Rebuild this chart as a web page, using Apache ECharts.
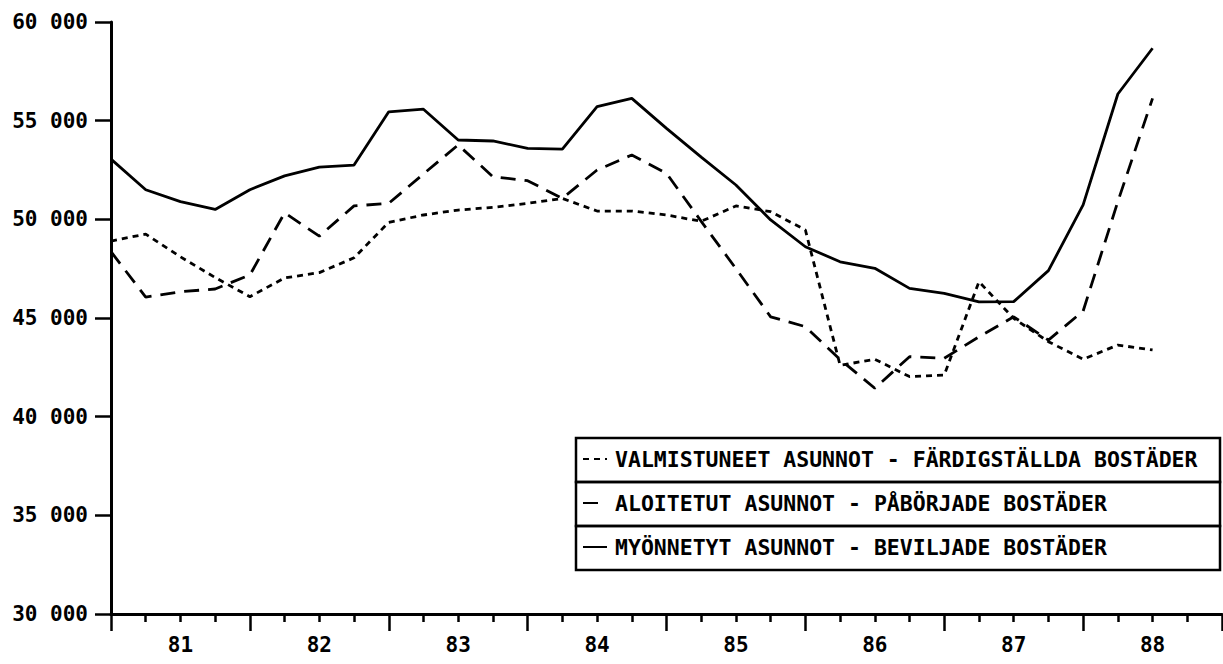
<!DOCTYPE html>
<html>
<head>
<meta charset="utf-8">
<script src="https://cdn.jsdelivr.net/npm/echarts@6/dist/echarts.min.js"></script>
<style>
html,body{margin:0;padding:0;background:#fff;}
#chart{width:1223px;height:664px;}
</style>
</head>
<body>
<div id="chart"></div>
<script>
// Year labels on the x axis (each year = 4 quarters)
const years = ['81', '82', '83', '84', '85', '86', '87', '88'];
// Y tick values
const yTicks = [30000, 35000, 40000, 45000, 50000, 55000, 60000];

// Quarterly values, 1981 Q1 .. 1988 Q3
const valmistuneet = [48900, 49250, 48100, 47050, 46080, 47030, 47300, 48050,
  49850, 50220, 50470, 50610, 50810, 51060, 50420, 50420,
  50220, 49900, 50680, 50390, 49460, 42600, 42910, 42030,
  42110, 46840, 44980, 43800, 42910, 43630, 43380];
const aloitetut = [48360, 46060, 46330, 46470, 47180, 50330, 49150, 50680,
  50810, 52300, 53770, 52160, 51960, 51060, 52500, 53260,
  52330, 49900, 47500, 45060, 44560, 42900, 41440, 43040,
  42960, 44050, 45060, 43880, 45350, 50900, 56130];
const myonnetyt = [53050, 51500, 50900, 50500, 51500, 52200, 52650, 52750,
  55450, 55580, 54020, 53970, 53600, 53560, 55710, 56130,
  54610, 53150, 51740, 49970, 48610, 47850, 47520, 46500,
  46250, 45820, 45830, 47400, 50730, 56350, 58670];

const seriesNames = [
  'VALMISTUNEET ASUNNOT - FÄRDIGSTÄLLDA BOSTÄDER',
  'ALOITETUT ASUNNOT - PÅBÖRJADE BOSTÄDER',
  'MYÖNNETYT ASUNNOT - BEVILJADE BOSTÄDER'
];

const MONO = "'DejaVu Sans Mono', 'Liberation Mono', monospace";
const toXY = arr => arr.map((v, i) => [i, v]);

const chart = echarts.init(document.getElementById('chart'), null, {renderer: 'svg'});

const legendRowTop = [438, 482, 526];
const legendRects = legendRowTop.map(t => ({
  type: 'rect',
  shape: {x: 576, y: t, width: 644, height: 44},
  style: {fill: 'none', stroke: '#000', lineWidth: 2.5},
  z: 10
}));

const option = {
  backgroundColor: '#fff',
  animation: false,
  grid: {left: 111, top: 22, width: 1111, height: 592, containLabel: false},
  xAxis: [{
    type: 'value', min: 0, max: 32, interval: 4,
    axisLine: {show: true, lineStyle: {color: '#000', width: 3}},
    axisTick: {show: true, length: 17, lineStyle: {color: '#000', width: 2.5}},
    minorTick: {show: true, splitNumber: 4, length: 8, lineStyle: {color: '#000', width: 2.5}},
    axisLabel: {show: false},
    splitLine: {show: false}, minorSplitLine: {show: false}
  }, {
    type: 'category', data: years, position: 'bottom', boundaryGap: true,
    axisLine: {show: false}, axisTick: {show: false},
    axisLabel: {color: '#000', fontFamily: MONO, fontWeight: 'bold', fontSize: 21, margin: 20},
    splitLine: {show: false}
  }],
  yAxis: {
    type: 'value', min: yTicks[0], max: yTicks[yTicks.length - 1], interval: 5000,
    axisLine: {show: true, lineStyle: {color: '#000', width: 3}},
    axisTick: {show: true, length: 16, lineStyle: {color: '#000', width: 2.5}},
    axisLabel: {
      color: '#000', fontFamily: MONO, fontWeight: 'bold', fontSize: 21, margin: 23,
      formatter: v => String(v).replace(/\B(?=(\d{3})+(?!\d))/g, ' ')
    },
    splitLine: {show: false}
  },
  legend: seriesNames.map((n, k) => ({
    data: [n],
    left: 582, top: legendRowTop[k] + 10,
    orient: 'horizontal', padding: 0,
    itemWidth: 24, itemHeight: 24, itemGap: 0,
    itemStyle: {opacity: 0},
    textStyle: {color: '#000', fontFamily: MONO, fontWeight: 'bold', fontSize: 21.5, padding: [0, 0, 0, 3]},
    selectedMode: false
  })),
  graphic: legendRects,
  series: [{
    name: seriesNames[0], type: 'line', data: toXY(valmistuneet),
    xAxisIndex: 0, showSymbol: false, symbol: 'none',
    lineStyle: {color: '#000', width: 2.8, type: [6, 5]}
  }, {
    name: seriesNames[1], type: 'line', data: toXY(aloitetut),
    xAxisIndex: 0, showSymbol: false, symbol: 'none',
    lineStyle: {color: '#000', width: 2.8, type: [15, 9]}
  }, {
    name: seriesNames[2], type: 'line', data: toXY(myonnetyt),
    xAxisIndex: 0, showSymbol: false, symbol: 'none',
    lineStyle: {color: '#000', width: 2.8, type: 'solid'}
  }]
};
chart.setOption(option);
</script>
</body>
</html>
